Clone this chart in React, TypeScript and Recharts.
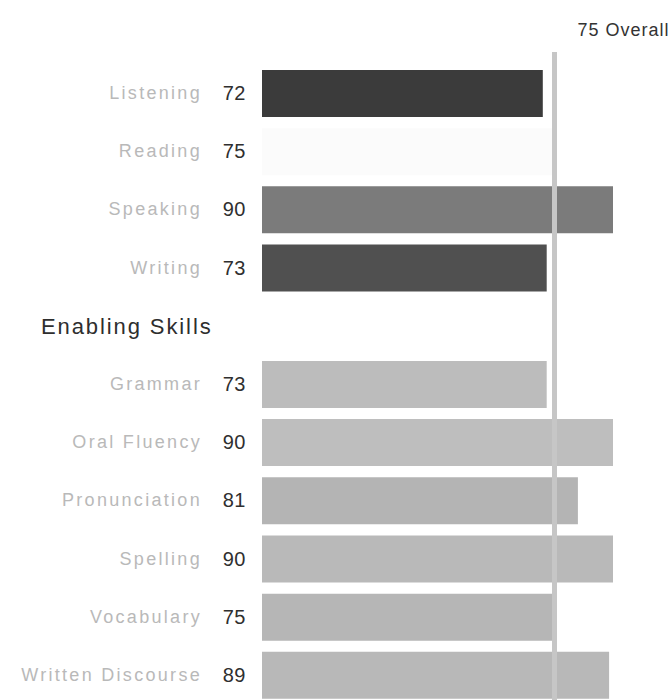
import React from 'react';
import { BarChart, Bar, XAxis, YAxis, Cell, ReferenceLine } from 'recharts';

const skills = [
  'Listening',
  'Reading',
  'Speaking',
  'Writing',
  'Enabling Skills',
  'Grammar',
  'Oral Fluency',
  'Pronunciation',
  'Spelling',
  'Vocabulary',
  'Written Discourse',
];
const scores: (number | null)[] = [72, 75, 90, 73, null, 73, 90, 81, 90, 75, 89];
const barColors = [
  '#3b3b3b',
  '#fbfbfb',
  '#7b7b7b',
  '#505050',
  '#ffffff',
  '#bcbcbc',
  '#bebebe',
  '#b4b4b4',
  '#b9b9b9',
  '#b6b6b6',
  '#b8b8b8',
];
const headerRows = ['Enabling Skills'];
const overallScore = 75;
const overallLabel = 'Overall';

const data = skills.map((name, i) => ({ name, score: scores[i] }));

const FONT = '"Liberation Sans", Arial, sans-serif';

const SkillTick = (props: any) => {
  const { y, payload } = props;
  const name = payload.value as string;
  const idx = skills.indexOf(name);
  if (headerRows.includes(name)) {
    return (
      <text x={41} y={y} dy={8} fontFamily={FONT} fontSize={22} letterSpacing={1.9} fill="#2e2e2e" textAnchor="start">
        {name}
      </text>
    );
  }
  return (
    <g>
      <text x={202} y={y} dy={6} fontFamily={FONT} fontSize={18} letterSpacing={2.3} fill="#b9b9b9" textAnchor="end">
        {name}
      </text>
      <text x={246} y={y} dy={7} fontFamily={FONT} fontSize={20} letterSpacing={0.5} fill="#2f2f2f" textAnchor="end">
        {scores[idx]}
      </text>
    </g>
  );
};

const OverallLabel = (props: any) => {
  const { viewBox } = props;
  return (
    <text x={viewBox.x + 115} y={36} fontFamily={FONT} fontSize={18} letterSpacing={1} fill="#333" textAnchor="end">
      {`${overallScore} ${overallLabel}`}
    </text>
  );
};

const OverallLine = (props: any) => {
  const { x1, y1, x2, y2 } = props;
  const top = Math.min(y1, y2) - 12;
  const bottom = Math.max(y1, y2);
  return <line x1={x1} y1={top} x2={x2} y2={bottom} stroke="#c6c6c6" strokeWidth={5} />;
};

export default function App() {
  return (
    <div style={{ position: 'absolute', left: 0, top: 0, width: 671, height: 700, overflow: 'hidden', background: '#fff' }}>
      <BarChart
        width={671}
        height={704}
        layout="vertical"
        data={data}
        margin={{ top: 64, right: 58, bottom: 0, left: 0 }}
      >
        <XAxis type="number" domain={[0, 90]} hide />
        <YAxis
          type="category"
          dataKey="name"
          width={262}
          axisLine={false}
          tickLine={false}
          interval={0}
          tick={<SkillTick />}
        />
        <Bar dataKey="score" barSize={47} isAnimationActive={false}>
          {data.map((d, i) => (
            <Cell key={d.name} fill={barColors[i]} />
          ))}
        </Bar>
        <ReferenceLine
          x={overallScore}
          ifOverflow="visible"
          shape={<OverallLine />}
          label={<OverallLabel />}
        />
      </BarChart>
    </div>
  );
}
